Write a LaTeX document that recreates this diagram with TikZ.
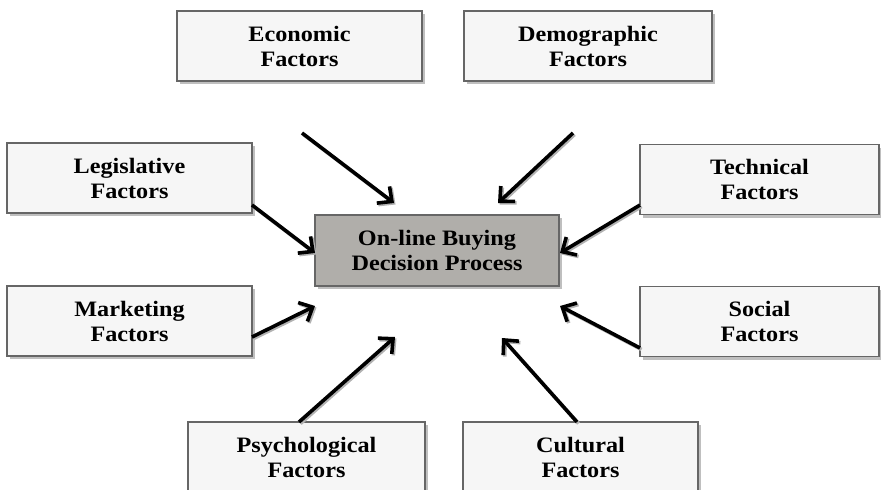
\documentclass[tikz,border=0pt]{standalone}
\usepackage{fontspec}
\setmainfont{Liberation Serif}[FakeStretch=1.1]
\usetikzlibrary{arrows.meta,shadows}
\begin{document}
\begin{tikzpicture}[x=1pt,y=-1pt,
  factor/.style={draw=black!60, line width=1.8pt, fill=black!3.5, minimum height=70pt,
     inner sep=0pt, align=center, font=\fontsize{22}{25}\selectfont\bfseries,
     drop shadow={shadow xshift=3pt, shadow yshift=-3pt, fill=black!25, opacity=1}},
  core/.style={factor, fill={rgb,255:red,176;green,174;blue,170}, minimum height=71pt, minimum width=244pt},
  arr/.style={line width=3.6pt, -{Straight Barb[length=11pt,width=21pt,line width=3.6pt]}},
  arrsh/.style={arr, draw=black!30}
]
\useasboundingbox (0,0) rectangle (881,490);
\node[factor, minimum width=245pt] (eco) at (299.5,46) {Economic\\Factors};
\node[factor, minimum width=248pt] (demo) at (588,46) {Demographic\\Factors};
\node[factor, minimum width=245pt] (leg) at (129.5,178) {Legislative\\Factors};
\node[factor, minimum width=245pt] (mkt) at (129.5,321) {Marketing\\Factors};
\node[factor, minimum width=239pt] (tech) at (759.5,179.5) {Technical\\Factors};
\node[factor, minimum width=239pt] (soc) at (759.5,321.5) {Social\\Factors};
\node[factor, minimum width=237pt] (psy) at (306.5,457) {Psychological\\Factors};
\node[factor, minimum width=235pt] (cul) at (580.5,457) {Cultural\\Factors};
\node[core] (dec) at (437,250.5) {On-line Buying\\Decision Process};
% arrow end points
\coordinate (ecoS) at (302,133);  \coordinate (ecoT) at (394,203);
\coordinate (demoS) at (573,133); \coordinate (demoT) at (498,203);
\coordinate (legS) at (252,205);  \coordinate (legT) at (315,253);
\coordinate (techS) at (640,205); \coordinate (techT) at (560,253);
\coordinate (mktS) at (252,337);  \coordinate (mktT) at (315,306);
\coordinate (socS) at (640,348);  \coordinate (socT) at (560,306);
\coordinate (psyS) at (299,422);  \coordinate (psyT) at (395,337);
\coordinate (culS) at (577,422);  \coordinate (culT) at (502,338);
\foreach \n in {eco,demo,leg,tech,mkt,soc,psy,cul}{
  \draw[arrsh, transform canvas={shift={(1.5pt,-1.5pt)}}] (\n S) -- (\n T);
}
\foreach \n in {eco,demo,leg,tech,mkt,soc,psy,cul}{
  \draw[arr] (\n S) -- (\n T);
}
\end{tikzpicture}
\end{document}
